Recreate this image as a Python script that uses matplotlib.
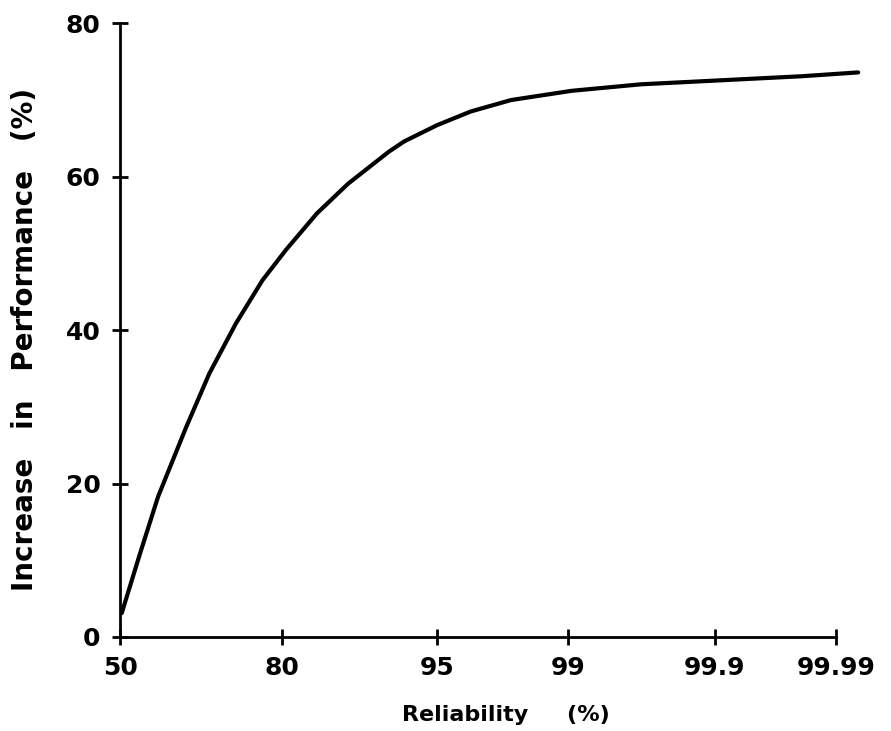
from statistics import NormalDist

import matplotlib
matplotlib.use("Agg")
import matplotlib.pyplot as plt
import numpy as np

# Reliability (%) on a normal-probability axis vs. increase in performance (%)
reliability = [50.35, 54.1, 57.84, 63.47, 67.9, 72.66, 77.03, 80.55, 84.66,
               88.2, 91.9, 93.0, 95.0, 96.57, 97.89, 99.05, 99.66, 99.891,
               99.980, 99.9937]
performance = [3.1, 10.8, 18.3, 27.4, 34.4, 40.9, 46.5, 50.45, 55.2,
               59.1, 63.3, 64.6, 66.7, 68.5, 70.0, 71.2, 72.05, 72.5,
               73.1, 73.6]

x_ticks = [50, 80, 95, 99, 99.9, 99.99]
x_tick_labels = ["50", "80", "95", "99", "99.9", "99.99"]
y_ticks = [0, 20, 40, 60, 80]

_nd = NormalDist()
_inv = np.vectorize(lambda p: _nd.inv_cdf(min(max(p, 1e-12), 1 - 1e-12)),
                    otypes=[float])
_cdf = np.vectorize(_nd.cdf, otypes=[float])


def probit_forward(pct):
    return _inv(np.asarray(pct, dtype=float) / 100.0)


def probit_inverse(z):
    return _cdf(np.asarray(z, dtype=float)) * 100.0


fig = plt.figure(figsize=(8.91, 7.31), dpi=100)
ax = fig.add_axes([0.1347, 0.1286, 0.8418, 0.8395])

ax.set_xscale("function", functions=(probit_forward, probit_inverse))
ax.plot(reliability, performance, color="black", lw=3.0,
        solid_capstyle="round", solid_joinstyle="round")

ax.set_xlim(50, 99.99511)
ax.set_ylim(0, 80)

ax.set_xticks(x_ticks)
ax.set_xticklabels(x_tick_labels)
ax.set_yticks(y_ticks)
ax.xaxis.set_minor_locator(matplotlib.ticker.NullLocator())
ax.yaxis.set_minor_locator(matplotlib.ticker.NullLocator())

for side in ("top", "right"):
    ax.spines[side].set_visible(False)
for side in ("left", "bottom"):
    ax.spines[side].set_linewidth(2.0)
ax.spines["bottom"].set_bounds(50, 99.99)
ax.spines["left"].set_bounds(0, 80)

ax.tick_params(axis="both", direction="inout", length=12, width=2.0,
               colors="black")
ax.tick_params(axis="x", pad=8)
ax.tick_params(axis="y", pad=8)

for lab in ax.get_xticklabels() + ax.get_yticklabels():
    lab.set_fontsize(18)
    lab.set_fontweight("bold")

ax.set_xlabel("Reliability     (%)", fontsize=16, fontweight="bold")
ax.xaxis.set_label_coords(0.515, -0.111)
ax.set_ylabel("Increase   in   Performance   (%)", fontsize=20,
              fontweight="bold")
ax.yaxis.set_label_coords(-0.108, 0.485)

fig.savefig("out.png", dpi=100)
